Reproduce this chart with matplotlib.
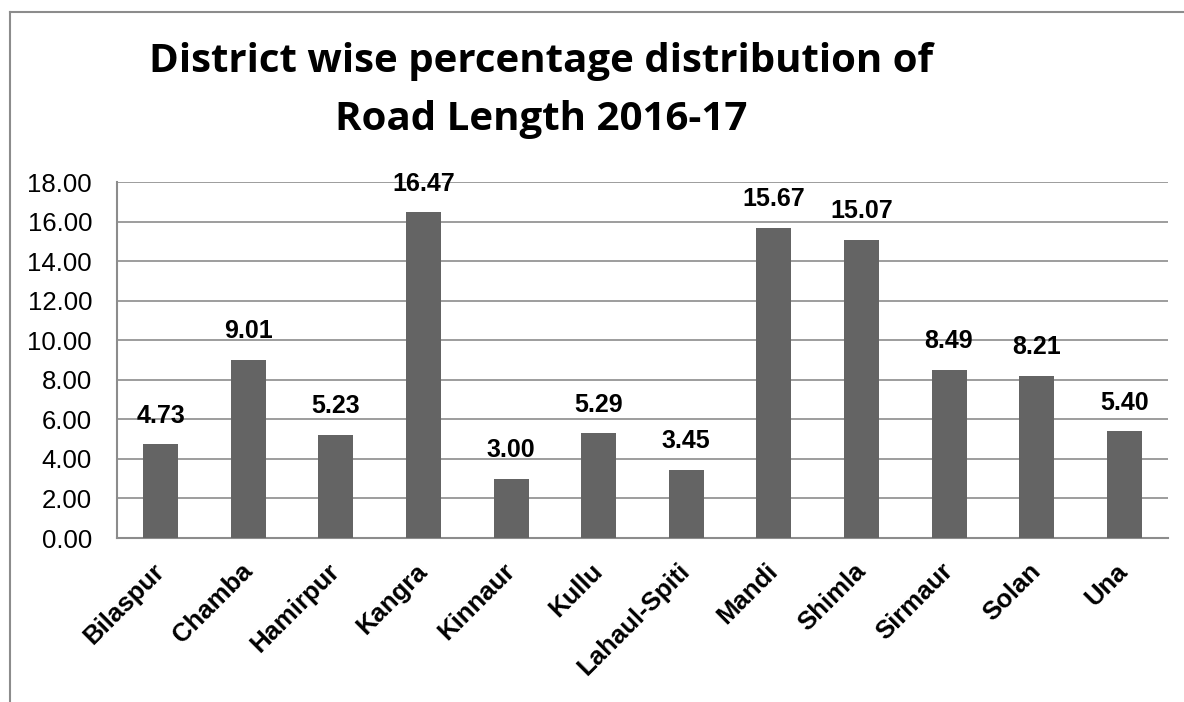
import numpy as np
import matplotlib.pyplot as plt
from matplotlib.lines import Line2D

districts = ['Bilaspur', 'Chamba', 'Hamirpur', 'Kangra', 'Kinnaur', 'Kullu',
             'Lahaul-Spiti', 'Mandi', 'Shimla', 'Sirmaur', 'Solan', 'Una']
share = [4.73, 9.01, 5.23, 16.47, 3.00, 5.29, 3.45, 15.67, 15.07, 8.49, 8.21, 5.40]
yticks = np.arange(0, 20, 2)
title_lines = ['District wise percentage distribution of', 'Road Length 2016-17']

plt.rcParams['font.family'] = ['Liberation Sans', 'DejaVu Sans']

W, H = 1184, 702
fig = plt.figure(figsize=(W/100, H/100), dpi=100)
ax = fig.add_axes([117/W, 1-538/H, (1168-117)/W, (538-182)/H])

x = np.arange(len(districts))
ax.bar(x, share, width=0.4, color='#646464', zorder=3)
ax.set_xlim(-0.5, len(districts)-0.5)
ax.set_ylim(0, 18)
ax.set_yticks(yticks)
ax.set_yticklabels(['%.2f' % v for v in yticks], fontsize=18.5)
ax.set_xticks(x)
ax.set_xticklabels([])
ax.tick_params(axis='both', length=0)
ax.tick_params(axis='y', pad=18)
ax.grid(axis='y', color='#8c8c8c', linewidth=1.2, zorder=0)
for s in ['top', 'right']:
    ax.spines[s].set_visible(False)
for s in ['left', 'bottom']:
    ax.spines[s].set_color('#8c8c8c')
    ax.spines[s].set_linewidth(1.5)

# rotated category labels, anchored just below the axis
for xi, name in zip(x, districts):
    ax.annotate(name, (xi, 0), xytext=(-6, -15), textcoords='offset points',
                ha='right', va='top', rotation=45, rotation_mode='anchor',
                fontsize=18.5, fontweight='bold')

for xi, v in zip(x, share):
    ax.annotate('%.2f' % v, (xi, v), xytext=(0, 12), textcoords='offset points',
                ha='center', va='bottom', fontsize=18, fontweight='bold')

for line, base in zip(title_lines, [72, 130]):
    fig.text(541/W, 1-base/H, line, ha='center', va='baseline', fontsize=29,
             fontweight='bold', family=['Open Sans', 'DejaVu Sans'])

# outer chart frame (left and top edges)
fig.add_artist(Line2D([10/W, 10/W], [0, 1-12/H], transform=fig.transFigure,
                      color='#8c8c8c', linewidth=1.5))
fig.add_artist(Line2D([10/W, 1], [1-12/H, 1-12/H], transform=fig.transFigure,
                      color='#8c8c8c', linewidth=1.5))

fig.savefig('out.png', dpi=100)
